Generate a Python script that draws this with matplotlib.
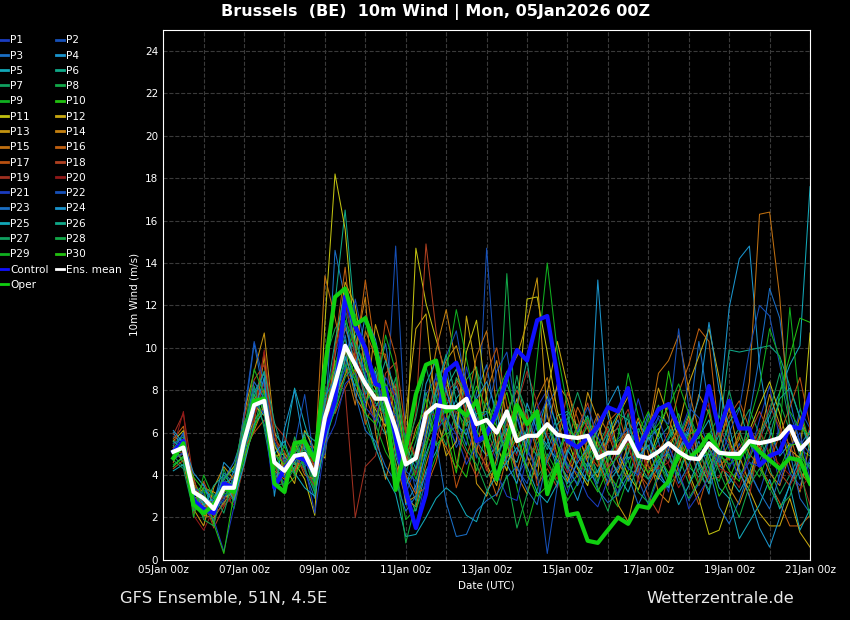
import numpy as np
import matplotlib
matplotlib.use("Agg")
import matplotlib.pyplot as plt

# forecast steps: +6h ... +384h from 05Jan2026 00Z, in days
steps_h = np.arange(6, 385, 6)
days = steps_h / 24.0

tick_days = [0, 2, 4, 6, 8, 10, 12, 14, 16]
tick_labels = ["05Jan 00z", "07Jan 00z", "09Jan 00z", "11Jan 00z", "13Jan 00z",
               "15Jan 00z", "17Jan 00z", "19Jan 00z", "21Jan 00z"]

ens_mean = [5.1, 5.3, 3.2, 2.9, 2.4, 3.4, 3.4, 5.6,
            7.3, 7.5, 4.6, 4.2, 4.9, 5.0, 4.0, 6.7,
            8.3, 10.1, 9.2, 8.3, 7.6, 7.6, 6.2, 4.5,
            4.8, 6.9, 7.3, 7.2, 7.2, 7.6, 6.4, 6.6,
            6.0, 7.0, 5.6, 5.85, 5.85, 6.4, 5.9, 5.8,
            5.75, 5.85, 4.8, 5.05, 5.05, 5.85, 4.9, 4.8,
            5.1, 5.5, 5.1, 4.8, 4.75, 5.5, 5.05, 5.0,
            5.0, 5.6, 5.5, 5.6, 5.75, 6.3, 5.2, 5.7]

control = [5.1, 5.6, 2.8, 2.4, 2.2, 3.6, 3.4, 5.5,
           7.3, 7.5, 3.4, 4.3, 4.9, 4.7, 4.1, 6.0,
           7.5, 12.4, 11.0, 10.0, 8.3, 8.1, 5.8, 3.2,
           1.5, 3.1, 6.5, 8.9, 9.3, 8.0, 5.6, 5.9,
           7.0, 8.6, 9.9, 9.4, 11.3, 11.5, 8.7, 5.6,
           5.3, 5.75, 6.3, 7.2, 7.0, 8.1, 5.2, 6.2,
           7.1, 7.35, 6.2, 5.3, 6.1, 8.2, 6.1, 7.5,
           6.2, 6.2, 4.45, 4.9, 5.1, 6.3, 6.2, 7.8]

oper = [4.8, 5.5, 2.6, 2.2, 2.6, 3.4, 3.2, 5.5,
        7.5, 7.6, 3.6, 3.2, 5.5, 5.6, 4.7, 9.1,
        12.4, 12.8, 11.1, 11.4, 10.0, 7.6, 3.3, 5.3,
        7.8, 9.2, 9.4, 7.0, 7.2, 6.8, 7.5, 5.6,
        3.8, 5.5, 7.3, 6.4, 7.0, 3.1, 4.5, 2.1,
        2.2, 0.9, 0.8, 1.4, 2.0, 1.7, 2.55, 2.45,
        3.2, 3.7, 5.0, 4.8, 5.2, 5.9, 5.1, 4.9,
        4.8, 5.6, 5.1, 4.7, 4.3, 4.8, 4.7, 3.6]

p01 = [5.4, 5.9, 3.8, 2.6, 1.9, 2.8, 3.9, 6.2, 8.1, 7.0, 4.4, 3.6, 5.2, 4.8, 3.3, 7.4,
       9.6, 11.8, 10.3, 8.9, 6.1, 7.9, 5.2, 3.1, 4.4, 7.8, 8.6, 6.3, 5.5, 9.1, 7.3, 5.8,
       4.7, 6.1, 3.9, 4.8, 7.2, 8.0, 6.1, 4.2, 3.6, 5.1, 6.8, 4.4, 3.1, 5.7, 7.6, 5.9,
       4.3, 3.2, 5.8, 7.1, 4.6, 3.9, 6.4, 5.2, 3.8, 4.9, 6.6, 8.2, 5.7, 4.1, 3.5, 4.8]
p02 = [4.7, 5.1, 2.6, 3.3, 2.9, 3.9, 2.7, 5.1, 6.8, 8.4, 5.3, 4.9, 4.1, 5.6, 4.6, 5.9,
       7.4, 9.1, 8.2, 9.9, 8.7, 6.4, 14.8, 5.6, 3.2, 6.1, 8.8, 6.9, 5.3, 6.2, 4.8, 14.7,
       8.1, 5.9, 4.3, 3.6, 5.2, 6.9, 4.4, 3.1, 4.8, 6.6, 5.2, 3.9, 4.4, 6.1, 3.8, 2.6,
       3.9, 5.4, 4.2, 2.8, 3.6, 5.1, 6.2, 4.3, 5.5, 4.1, 3.2, 4.7, 6.3, 5.0, 7.1, 6.2]
p03 = [5.8, 5.6, 3.5, 2.2, 2.5, 4.1, 3.6, 6.6, 10.2, 7.7, 4.0, 4.5, 5.6, 4.2, 2.9, 6.2,
       14.6, 12.3, 9.6, 7.8, 8.4, 10.2, 7.1, 3.9, 2.8, 5.3, 7.6, 9.1, 6.7, 5.4, 7.9, 9.2,
       6.4, 4.8, 6.7, 5.1, 4.4, 7.3, 8.1, 6.3, 4.9, 4.2, 3.6, 5.8, 6.6, 4.7, 5.3, 6.9,
       5.6, 3.7, 4.9, 6.4, 10.3, 7.2, 4.8, 3.6, 4.4, 6.8, 9.6, 12.8, 11.4, 7.6, 5.4, 6.1]
p04 = [6.0, 5.2, 3.0, 3.6, 2.1, 3.1, 4.2, 5.8, 7.9, 8.8, 4.8, 3.9, 4.3, 5.4, 4.1, 7.1,
       8.8, 10.9, 9.8, 7.4, 8.9, 6.6, 5.8, 2.6, 3.5, 5.0, 6.2, 7.3, 8.2, 7.0, 5.6, 4.9,
       5.3, 6.2, 5.0, 7.4, 6.1, 5.4, 4.7, 3.9, 2.8, 4.3, 13.2, 6.8, 4.9, 3.7, 5.5, 6.3,
       4.1, 3.4, 5.0, 6.0, 4.4, 3.1, 6.9, 11.9, 14.2, 14.8, 9.1, 6.2, 4.9, 5.5, 3.8, 4.6]
p05 = [4.4, 4.9, 3.4, 2.4, 2.2, 3.6, 3.9, 5.0, 6.6, 7.2, 6.0, 5.3, 8.1, 6.4, 4.8, 6.5,
       7.7, 9.4, 10.6, 8.6, 7.2, 8.1, 4.9, 3.3, 2.3, 4.2, 5.1, 6.4, 7.6, 8.3, 6.8, 5.5,
       3.7, 5.0, 4.6, 6.2, 5.9, 7.7, 6.2, 5.4, 6.0, 6.8, 4.9, 3.6, 4.3, 5.0, 6.5, 5.7,
       6.2, 4.8, 4.0, 5.3, 5.8, 6.6, 4.5, 3.9, 3.2, 4.1, 5.7, 6.8, 7.9, 9.2, 10.1, 17.6]
p06 = [5.2, 5.5, 2.9, 3.0, 2.6, 3.0, 3.1, 5.4, 7.0, 7.6, 5.1, 4.0, 5.0, 5.9, 3.6, 8.4,
       12.1, 16.5, 11.2, 9.3, 6.8, 5.9, 7.3, 5.0, 4.1, 6.8, 5.9, 8.1, 9.0, 7.1, 6.0, 7.4,
       6.6, 8.3, 7.1, 5.6, 4.9, 5.5, 6.8, 7.0, 6.3, 5.2, 4.1, 5.9, 6.2, 4.8, 5.1, 4.6,
       5.7, 6.3, 5.3, 4.4, 3.9, 4.8, 5.9, 9.9, 9.8, 9.9, 10.0, 10.1, 9.6, 8.2, 6.7, 5.3]
p07 = [4.9, 4.4, 3.1, 3.2, 3.0, 2.6, 3.7, 5.9, 7.5, 6.4, 4.1, 4.7, 4.5, 4.4, 4.9, 6.0,
       8.0, 9.7, 10.8, 9.6, 7.4, 6.9, 8.6, 4.1, 5.6, 7.9, 6.5, 5.4, 7.0, 6.3, 8.9, 7.8,
       5.2, 6.4, 8.7, 6.1, 3.9, 4.6, 5.8, 6.7, 5.0, 4.1, 5.4, 6.3, 5.0, 6.9, 4.2, 3.8,
       4.7, 5.8, 6.9, 5.2, 4.1, 3.3, 4.6, 5.5, 6.2, 7.1, 5.9, 4.3, 3.1, 4.0, 5.0, 4.4]
p08 = [5.5, 5.8, 3.3, 2.7, 1.8, 4.3, 3.0, 4.8, 6.3, 8.1, 5.5, 4.3, 4.8, 5.2, 3.4, 9.4,
       10.9, 11.7, 8.9, 6.6, 5.2, 8.0, 6.9, 5.8, 4.6, 6.4, 7.8, 5.9, 6.3, 8.5, 9.1, 6.2,
       4.9, 13.5, 5.5, 7.1, 6.8, 4.7, 3.6, 5.1, 6.4, 5.6, 3.7, 4.8, 5.6, 6.0, 5.2, 6.1,
       7.3, 6.2, 4.9, 3.6, 4.3, 5.9, 6.8, 5.6, 4.3, 3.6, 5.1, 6.4, 7.4, 6.1, 5.2, 4.9]
p09 = [4.5, 4.8, 2.7, 2.0, 2.8, 3.5, 2.4, 4.6, 6.9, 7.9, 4.7, 3.4, 3.9, 5.0, 3.1, 5.6,
       7.1, 8.8, 11.6, 9.7, 6.4, 5.1, 4.3, 1.9, 2.4, 3.6, 4.9, 6.6, 7.3, 5.8, 4.2, 6.1,
       7.5, 5.7, 3.4, 1.6, 3.3, 5.0, 4.1, 2.8, 3.6, 5.4, 4.6, 3.2, 2.5, 3.9, 5.0, 6.7,
       4.7, 3.5, 4.1, 5.5, 6.3, 4.4, 3.7, 5.1, 5.8, 4.6, 3.9, 5.2, 6.0, 11.9, 7.2, 5.4]
p10 = [5.0, 5.4, 3.7, 2.9, 2.3, 3.3, 3.5, 6.4, 7.8, 7.1, 4.4, 4.1, 5.3, 4.5, 4.3, 6.9,
       9.3, 10.4, 8.4, 7.1, 9.1, 7.4, 5.1, 3.6, 4.2, 5.5, 6.6, 7.0, 4.6, 3.9, 6.1, 5.3,
       6.8, 7.9, 5.9, 4.4, 5.5, 6.3, 5.4, 4.3, 5.5, 6.3, 5.3, 4.1, 3.4, 4.2, 6.0, 7.0,
       5.8, 8.9, 6.6, 4.7, 3.5, 4.6, 5.1, 4.2, 3.7, 5.3, 6.1, 4.9, 7.9, 9.6, 11.4, 11.2]
p11 = [5.6, 6.1, 3.6, 2.5, 2.7, 3.8, 4.4, 5.2, 7.3, 6.8, 4.9, 5.0, 4.6, 3.8, 2.1, 11.2,
       18.2, 15.6, 10.1, 8.2, 7.1, 6.3, 8.2, 4.8, 14.7, 12.1, 10.4, 8.7, 6.2, 9.8, 11.3, 7.6,
       5.4, 4.2, 6.9, 12.3, 12.4, 9.8, 7.0, 5.7, 4.3, 3.5, 5.8, 7.2, 5.1, 4.0, 3.3, 4.7,
       6.0, 7.4, 5.6, 4.1, 2.9, 1.2, 1.4, 2.8, 4.6, 6.1, 7.3, 8.4, 6.9, 5.2, 4.8, 10.7]
p12 = [4.8, 5.0, 2.8, 3.4, 3.2, 2.9, 3.2, 5.7, 6.5, 9.6, 5.4, 4.4, 3.6, 6.1, 5.2, 4.8,
       9.7, 13.1, 12.0, 9.0, 8.1, 6.0, 3.4, 6.8, 10.9, 11.6, 6.9, 4.9, 5.6, 11.5, 8.8, 4.5,
       3.5, 6.0, 7.6, 4.9, 3.8, 7.9, 10.3, 8.2, 6.0, 4.6, 3.9, 5.6, 6.8, 7.7, 5.9, 4.4,
       3.8, 5.2, 6.3, 8.3, 9.6, 10.9, 8.6, 5.7, 4.1, 3.3, 2.2, 1.6, 1.6, 2.9, 1.3, 0.6]
p13 = [5.3, 4.6, 2.4, 1.6, 3.4, 4.4, 3.8, 6.9, 8.9, 10.7, 6.1, 4.0, 5.5, 4.7, 3.9, 6.4,
       8.6, 9.9, 7.7, 6.9, 11.1, 9.4, 7.8, 2.7, 3.0, 5.9, 8.1, 9.4, 10.1, 8.4, 3.6, 3.0,
       4.8, 8.8, 9.6, 11.2, 13.3, 6.8, 4.9, 3.7, 5.2, 7.9, 6.6, 4.5, 2.6, 1.8, 3.9, 5.9,
       8.1, 6.7, 5.3, 6.8, 4.7, 3.6, 5.4, 7.2, 4.9, 3.6, 5.8, 7.8, 6.4, 4.5, 3.2, 5.6]
p14 = [4.6, 5.7, 3.9, 2.1, 2.0, 2.7, 3.3, 4.9, 6.1, 7.3, 3.7, 4.9, 4.2, 5.5, 4.4, 7.6,
       7.6, 8.7, 9.9, 12.4, 6.0, 3.8, 5.5, 4.4, 6.2, 7.1, 9.9, 11.8, 9.2, 6.6, 5.0, 7.9,
       9.4, 6.6, 4.0, 3.1, 4.6, 6.1, 8.3, 7.6, 5.8, 4.8, 6.3, 5.0, 4.1, 5.4, 6.7, 5.0,
       3.2, 2.7, 4.5, 5.7, 7.8, 6.9, 5.0, 3.4, 2.6, 3.9, 5.3, 4.1, 3.5, 5.0, 6.8, 5.5]
p15 = [5.1, 5.3, 3.4, 3.0, 1.7, 3.7, 2.9, 5.5, 7.6, 8.0, 4.2, 3.8, 4.4, 4.9, 4.6, 13.4,
       11.4, 9.2, 7.3, 10.8, 9.6, 7.1, 4.6, 2.9, 2.5, 4.5, 6.0, 5.3, 4.3, 7.2, 9.6, 10.8,
       7.2, 5.4, 4.2, 5.8, 7.6, 8.6, 6.7, 4.8, 3.9, 5.7, 6.9, 6.0, 4.6, 3.8, 4.4, 6.0,
       8.8, 9.4, 10.6, 8.0, 6.1, 5.3, 4.4, 4.9, 5.7, 8.4, 16.3, 16.4, 12.4, 6.0, 4.2, 3.5]
p16 = [5.7, 6.3, 3.2, 2.6, 2.4, 3.2, 3.6, 6.1, 7.1, 9.8, 5.0, 4.6, 5.1, 4.0, 3.8, 5.3,
       10.1, 13.8, 9.4, 13.2, 9.8, 9.7, 6.4, 4.0, 3.1, 3.4, 4.6, 6.7, 8.5, 7.7, 5.2, 4.4,
       3.0, 4.9, 5.7, 6.8, 5.0, 3.3, 4.1, 5.5, 7.2, 6.2, 4.7, 3.5, 5.3, 6.5, 5.8, 4.0,
       5.1, 6.0, 7.9, 9.2, 10.9, 10.3, 5.9, 4.7, 6.0, 5.0, 4.4, 3.6, 2.7, 1.6, 1.6, 2.1]
p17 = [4.3, 4.7, 2.5, 3.7, 2.6, 3.4, 4.0, 5.3, 6.0, 6.6, 5.7, 5.1, 4.0, 5.7, 4.2, 7.9,
       6.9, 8.1, 9.0, 6.4, 7.7, 11.3, 9.6, 6.1, 4.7, 6.4, 8.4, 6.0, 3.4, 4.9, 6.3, 8.8,
       10.0, 7.3, 5.4, 4.3, 5.8, 4.6, 5.6, 7.9, 6.7, 5.0, 4.4, 6.5, 7.0, 5.3, 4.1, 3.5,
       4.4, 5.5, 6.1, 3.9, 2.6, 4.2, 5.6, 6.8, 7.5, 6.2, 5.4, 4.6, 5.9, 7.2, 8.6, 6.3]
p18 = [5.0, 5.1, 2.2, 2.9, 1.5, 2.5, 3.2, 6.7, 8.5, 9.2, 4.5, 3.3, 4.8, 5.4, 5.3, 6.1,
       9.0, 11.0, 9.3, 7.7, 6.5, 8.8, 9.3, 4.6, 6.9, 14.9, 10.8, 8.2, 6.0, 5.0, 3.9, 5.0,
       5.9, 7.0, 8.0, 6.5, 3.5, 4.3, 3.4, 5.3, 6.2, 7.4, 5.5, 4.3, 5.4, 6.1, 4.3, 3.0,
       2.2, 4.0, 5.5, 6.6, 5.2, 3.8, 3.9, 4.9, 5.3, 5.9, 7.0, 6.0, 4.1, 3.5, 4.5, 6.3]
p19 = [5.9, 6.9, 3.8, 2.3, 2.1, 2.6, 3.0, 5.6, 6.7, 8.4, 6.4, 5.8, 4.9, 4.2, 3.5, 6.8,
       8.3, 8.0, 2.0, 4.4, 4.9, 7.0, 8.3, 6.0, 4.9, 5.8, 5.4, 7.9, 8.4, 6.9, 5.7, 4.2,
       5.5, 6.4, 7.3, 8.9, 7.4, 5.9, 5.0, 4.1, 5.4, 6.6, 4.8, 5.5, 6.3, 7.1, 5.5, 4.4,
       4.3, 4.6, 5.9, 6.2, 3.5, 5.1, 6.1, 5.5, 4.2, 3.0, 5.6, 7.3, 6.2, 5.4, 4.1, 2.6]
p20 = [5.3, 7.0, 2.1, 1.4, 2.4, 3.0, 2.6, 4.4, 6.6, 9.9, 5.9, 4.4, 5.7, 5.3, 4.5, 7.0,
       9.8, 12.2, 9.7, 8.4, 7.2, 6.8, 8.1, 5.2, 4.0, 7.0, 6.8, 7.6, 6.9, 8.0, 7.0, 5.9,
       6.1, 5.5, 4.9, 6.9, 5.3, 4.5, 3.8, 6.0, 4.7, 4.0, 5.0, 6.2, 4.8, 5.6, 3.7, 4.9,
       5.4, 4.5, 3.4, 4.3, 6.5, 7.4, 4.3, 4.1, 3.4, 4.8, 6.2, 5.0, 4.5, 4.0, 3.3, 4.0]
p21 = [4.8, 5.0, 3.0, 2.4, 1.9, 0.4, 2.5, 5.0, 7.4, 6.9, 4.6, 3.9, 4.7, 4.5, 2.2, 5.4,
       6.4, 8.3, 8.8, 7.2, 6.6, 8.6, 7.7, 3.7, 1.6, 3.9, 6.1, 6.7, 5.9, 4.5, 5.4, 5.8,
       4.1, 3.0, 2.8, 4.9, 6.5, 7.6, 5.5, 4.5, 4.1, 3.0, 2.5, 3.8, 5.1, 4.3, 4.0, 6.0,
       6.7, 5.3, 4.3, 2.4, 3.1, 3.9, 5.1, 4.9, 3.9, 4.6, 4.4, 5.7, 3.6, 5.3, 6.0, 3.8]
p22 = [5.5, 5.7, 3.4, 3.1, 2.2, 2.9, 3.8, 6.9, 10.3, 8.3, 5.6, 4.6, 5.4, 7.8, 4.5, 5.0,
       7.9, 9.0, 12.3, 10.0, 8.6, 7.3, 6.8, 4.2, 3.7, 6.2, 7.9, 9.6, 10.8, 8.1, 6.6, 6.9,
       8.9, 9.8, 6.8, 5.3, 4.1, 0.3, 3.5, 5.0, 6.1, 7.2, 5.8, 4.9, 5.7, 6.2, 5.4, 5.2,
       6.8, 6.4, 10.9, 7.2, 6.7, 5.2, 4.6, 6.0, 7.1, 9.9, 12.0, 11.5, 9.2, 6.9, 5.6, 5.0]
p23 = [5.2, 6.0, 2.5, 2.8, 2.8, 3.8, 4.6, 6.0, 8.4, 7.6, 3.9, 4.3, 5.0, 5.0, 3.7, 7.7,
       8.5, 10.6, 7.8, 6.1, 5.6, 4.4, 3.7, 2.3, 3.0, 4.0, 5.6, 2.7, 1.1, 1.2, 2.3, 2.8,
       3.1, 3.9, 4.4, 3.3, 2.6, 4.8, 5.9, 4.4, 3.5, 4.6, 3.3, 2.7, 3.1, 4.0, 2.6, 3.6,
       4.7, 5.1, 3.6, 4.5, 5.6, 4.3, 2.5, 1.7, 2.8, 4.2, 3.2, 2.4, 4.0, 5.1, 2.9, 2.2]
p24 = [6.1, 5.5, 4.1, 3.5, 2.6, 4.6, 4.1, 5.3, 7.0, 8.6, 3.0, 6.2, 8.0, 5.2, 4.7, 6.6,
       8.9, 11.2, 9.0, 11.5, 10.4, 8.2, 6.0, 3.4, 5.1, 8.3, 9.4, 8.0, 6.4, 5.9, 7.6, 8.4,
       7.0, 4.5, 3.6, 5.6, 7.1, 5.7, 4.3, 3.6, 4.6, 5.3, 6.1, 7.3, 8.2, 5.9, 4.9, 5.4,
       3.9, 3.4, 5.2, 6.1, 7.6, 11.2, 8.0, 6.3, 4.2, 3.0, 1.5, 0.6, 2.0, 3.6, 4.8, 6.1]
p25 = [4.2, 4.5, 3.3, 2.6, 2.9, 3.7, 2.8, 4.5, 6.4, 7.0, 5.0, 5.6, 4.1, 3.4, 3.0, 5.6,
       7.2, 9.6, 8.1, 7.0, 5.3, 4.0, 3.1, 1.1, 1.2, 2.0, 2.9, 3.4, 3.0, 2.1, 1.8, 3.2,
       4.0, 4.6, 5.3, 4.4, 3.2, 2.7, 3.6, 5.2, 4.4, 3.7, 4.2, 5.1, 4.0, 3.2, 4.5, 5.8,
       4.9, 3.9, 2.6, 3.5, 4.8, 5.0, 3.4, 2.9, 1.0, 1.8, 2.6, 3.8, 2.4, 3.5, 1.4, 2.4]
p26 = [5.6, 5.2, 2.8, 2.5, 3.5, 4.0, 3.4, 6.3, 7.7, 8.9, 6.5, 4.8, 4.5, 6.0, 5.6, 7.3,
       10.3, 12.7, 10.0, 8.6, 7.9, 9.4, 8.0, 5.4, 4.3, 5.7, 8.0, 9.7, 7.5, 6.4, 6.9, 7.0,
       5.0, 5.8, 7.3, 9.4, 6.2, 5.2, 6.4, 6.9, 5.0, 4.4, 5.1, 6.0, 6.9, 6.6, 4.6, 3.8,
       4.5, 5.7, 6.5, 5.5, 4.5, 3.6, 4.9, 6.5, 7.2, 5.5, 4.7, 5.8, 7.6, 8.1, 6.7, 5.1]
p27 = [4.7, 4.3, 2.3, 3.4, 3.1, 2.2, 3.9, 5.7, 8.2, 6.2, 3.5, 3.6, 4.3, 5.5, 3.9, 6.0,
       7.0, 8.6, 9.3, 7.9, 8.3, 6.5, 5.9, 5.2, 6.7, 9.1, 7.2, 6.0, 8.6, 7.8, 5.0, 3.9,
       4.5, 6.8, 8.2, 7.0, 5.3, 3.9, 4.5, 6.4, 7.9, 6.4, 5.0, 4.0, 3.0, 5.1, 6.2, 5.3,
       4.6, 3.8, 5.7, 6.9, 5.2, 4.0, 5.6, 8.0, 6.1, 4.8, 5.9, 7.0, 8.8, 6.4, 4.9, 4.3]
p28 = [5.4, 4.6, 3.5, 1.9, 1.6, 3.8, 4.3, 6.5, 7.2, 7.4, 4.8, 3.3, 5.8, 4.3, 3.2, 6.9,
       8.1, 9.2, 8.5, 7.5, 8.0, 7.0, 4.5, 0.8, 2.7, 4.8, 6.4, 7.4, 6.3, 5.2, 4.5, 3.3,
       2.6, 4.0, 1.5, 3.1, 4.9, 6.4, 5.4, 3.4, 4.0, 5.2, 3.4, 2.3, 3.8, 4.7, 3.2, 2.7,
       4.1, 5.0, 3.9, 2.9, 3.7, 5.2, 4.2, 3.1, 2.0, 3.5, 4.3, 3.4, 2.5, 3.0, 4.4, 2.0]
p29 = [5.0, 5.2, 2.0, 4.0, 2.9, 3.1, 3.3, 6.0, 9.0, 7.8, 4.2, 5.4, 4.0, 4.8, 5.0, 7.9,
       9.1, 11.3, 10.2, 9.2, 7.6, 10.6, 8.9, 5.3, 3.8, 5.3, 7.1, 8.9, 11.8, 9.5, 7.2, 6.0,
       7.8, 8.9, 6.2, 5.0, 9.5, 14.0, 9.8, 7.2, 5.9, 6.7, 5.6, 4.6, 5.8, 8.8, 6.8, 5.8,
       6.4, 7.2, 8.3, 6.9, 5.7, 7.1, 5.0, 4.5, 4.9, 6.5, 8.2, 10.9, 9.5, 7.0, 6.2, 5.9]
p30 = [4.4, 4.9, 3.9, 3.3, 1.7, 0.3, 3.1, 4.8, 6.2, 7.6, 5.0, 4.5, 5.1, 5.8, 3.5, 6.4,
       8.7, 10.0, 8.7, 6.9, 6.4, 8.3, 7.4, 4.9, 5.9, 7.6, 5.4, 6.0, 4.1, 6.9, 8.2, 7.1,
       6.3, 4.9, 5.9, 4.1, 3.0, 3.5, 5.0, 6.2, 5.7, 4.0, 3.2, 4.3, 4.9, 5.5, 4.8, 4.1,
       4.9, 4.1, 4.7, 5.9, 6.2, 4.7, 3.0, 3.8, 5.0, 5.9, 4.6, 3.3, 4.3, 5.4, 5.5, 3.5]

members = [p01, p02, p03, p04, p05, p06, p07, p08, p09, p10,
           p11, p12, p13, p14, p15, p16, p17, p18, p19, p20,
           p21, p22, p23, p24, p25, p26, p27, p28, p29, p30]

# 20 colours, members 21-30 reuse the first 10
member_colors = ["#1a3cc0", "#1650b8", "#1a6ec4", "#1a94cc", "#12a8b8",
                 "#10a888", "#10a060", "#12a848", "#10b020", "#22c010",
                 "#c0c010", "#c8a810", "#c49410", "#c48010", "#c07010",
                 "#c06010", "#b85010", "#b04020", "#a03020", "#901818"]

fig = plt.figure(figsize=(8.5, 6.2), dpi=100, facecolor="black")
ax = fig.add_axes([0.192, 0.097, 0.761, 0.855])
ax.set_facecolor("black")

handles = {}
for k, vals in enumerate(members):
    name = "P%d" % (k + 1)
    h, = ax.plot(days, vals, color=member_colors[k % 20], lw=0.75)
    handles[name] = h

handles["Control"], = ax.plot(days, control, color="#1010ff", lw=3)
handles["Oper"], = ax.plot(days, oper, color="#10d010", lw=3)
handles["Ens. mean"], = ax.plot(days, ens_mean, color="white", lw=3)

ax.set_xlim(0, 16)
ax.set_ylim(0, 25)
ax.set_xticks(tick_days)
ax.set_xticklabels(tick_labels)
ax.set_xticks(np.arange(0, 17, 1), minor=True)
ax.set_yticks(np.arange(0, 25, 2))
ax.grid(which="both", color="#3a3a3a", ls="--", lw=0.8)
ax.tick_params(which="both", colors="white", labelsize=7.5, length=0)
for s in ax.spines.values():
    s.set_color("white")
ax.set_ylabel("10m Wind (m/s)", color="white", fontsize=7.5)
ax.set_xlabel("Date (UTC)", color="white", fontsize=7.5, labelpad=4)

# legend: left column P1,P3,...,Control,Oper ; right column P2,P4,...,Ens. mean
left = ["P%d" % i for i in range(1, 31, 2)] + ["Control", "Oper"]
right = ["P%d" % i for i in range(2, 31, 2)] + ["Ens. mean"]
order = left + right
leg = fig.legend([handles[n] for n in order], order, ncol=2, loc="upper left",
                 bbox_to_anchor=(0.0, 0.943), frameon=False, fontsize=7.6,
                 handlelength=0.8, handletextpad=0.15, columnspacing=0.7,
                 labelspacing=0.5, borderpad=0, borderaxespad=0)
for t in leg.get_texts():
    t.set_color("white")
for l in leg.get_lines():
    l.set_linewidth(2)

fig.text(0.512, 0.980, "Brussels  (BE)  10m Wind | Mon, 05Jan2026 00Z",
         color="white", fontsize=11.5, fontweight="bold", ha="center", va="center")
fig.text(0.141, 0.035, "GFS Ensemble, 51N, 4.5E", color="#e8e8e8", fontsize=11.8,
         ha="left", va="center")
fig.text(0.934, 0.035, "Wetterzentrale.de", color="#e8e8e8", fontsize=11.8,
         ha="right", va="center")

fig.savefig("out.png", dpi=100, facecolor="black")
